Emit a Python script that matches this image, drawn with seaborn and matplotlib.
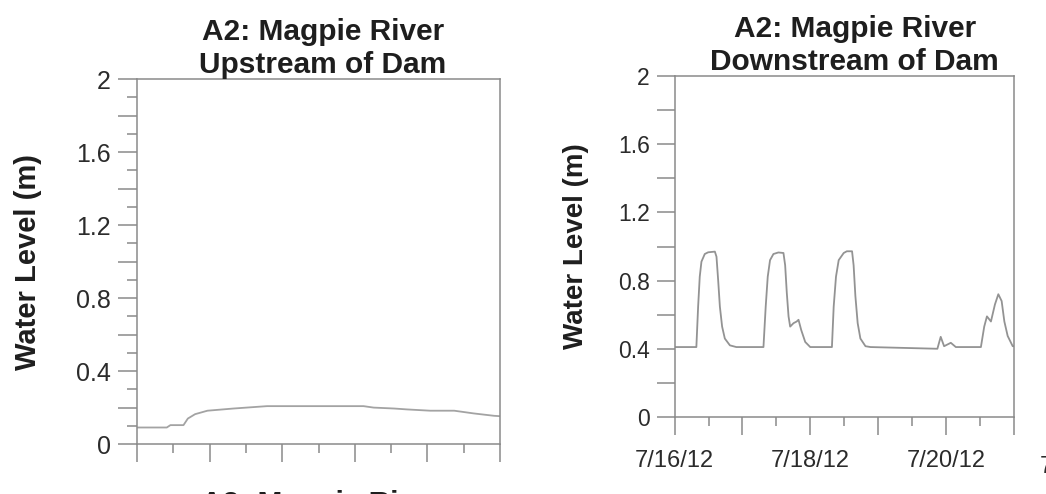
import pandas as pd
import matplotlib
matplotlib.use("Agg")
import matplotlib.pyplot as plt
import matplotlib.dates as mdates
from matplotlib.ticker import MultipleLocator, FuncFormatter, NullFormatter
import seaborn as sns

# water level records, time given as days after 7/16/12 00:00
start = pd.Timestamp("2012-07-16")
end = pd.Timestamp("2012-07-21")

up_days = [0, 0.41, 0.46, 0.64, 0.70, 0.80, 0.97, 1.33, 1.79, 3.12, 3.26, 3.54, 3.72,
           4.04, 4.37, 4.64, 4.92, 5.0]
up_level = [0.091, 0.091, 0.104, 0.104, 0.14, 0.164, 0.183, 0.195, 0.208, 0.208, 0.20,
            0.195, 0.19, 0.183, 0.183, 0.168, 0.155, 0.153]

down_days = [0, 0.32, 0.346, 0.37, 0.395, 0.444, 0.494, 0.593, 0.617, 0.642, 0.667, 0.70,
             0.74, 0.815, 0.91,
             1.31, 1.343, 1.373, 1.407, 1.457, 1.53, 1.605, 1.63, 1.654, 1.68, 1.704,
             1.753, 1.80, 1.827, 1.867, 1.926, 2.0,
             2.32, 2.346, 2.38, 2.42, 2.494, 2.54, 2.617, 2.64, 2.666, 2.70, 2.74,
             2.815, 2.89,
             3.876, 3.925, 3.975, 4.074, 4.148,
             4.518, 4.567, 4.607, 4.666, 4.725, 4.775, 4.824, 4.864, 4.913, 4.987, 5.0]
down_level = [0.41, 0.41, 0.647, 0.823, 0.911, 0.956, 0.966, 0.970, 0.94, 0.80, 0.647, 0.53,
              0.46, 0.42, 0.41,
              0.41, 0.647, 0.823, 0.92, 0.956, 0.965, 0.962, 0.89, 0.73, 0.59, 0.53,
              0.55, 0.56, 0.57, 0.51, 0.44, 0.41,
              0.41, 0.647, 0.823, 0.92, 0.962, 0.972, 0.972, 0.89, 0.71, 0.55, 0.46,
              0.415, 0.41,
              0.40, 0.47, 0.415, 0.435, 0.41,
              0.41, 0.53, 0.59, 0.56, 0.66, 0.72, 0.68, 0.56, 0.475, 0.415, 0.415]

titles = ["A2: Magpie River\nUpstream of Dam", "A2: Magpie River\nDownstream of Dam"]
ylabel = "Water Level (m)"
labelled_days = [16, 18, 20]

up = pd.DataFrame({"time": start + pd.to_timedelta(up_days, unit="D"), "level": up_level})
down = pd.DataFrame({"time": start + pd.to_timedelta(down_days, unit="D"), "level": down_level})

sns.set_style("ticks")
plt.rcParams["font.family"] = ["Liberation Sans", "DejaVu Sans"]

spine_col = "#8a8a8a"
text_col = "#2b2b2b"

fig = plt.figure(figsize=(10.46, 4.94), dpi=100)
ax1 = fig.add_axes([0.131, 0.101, 0.347, 0.739])
ax2 = fig.add_axes([0.645, 0.156, 0.324, 0.690])

sns.lineplot(data=up, x="time", y="level", ax=ax1, color="#a3a3a3", linewidth=1.3)
sns.lineplot(data=down, x="time", y="level", ax=ax2, color="#939393", linewidth=1.3)


def date_label(x, pos):
    d = mdates.num2date(x)
    if d.day in labelled_days and d.hour == 0:
        return f"{d.month}/{d.day}/{d:%y}"
    return ""


for ax in (ax1, ax2):
    ax.set_xlim(start, end)
    ax.set_ylim(0, 2)
    for sp in ax.spines.values():
        sp.set_visible(True)
        sp.set_color(spine_col)
        sp.set_linewidth(1.1)
    ax.xaxis.set_major_locator(mdates.DayLocator())
    ax.xaxis.set_minor_locator(mdates.HourLocator(byhour=[12]))
    ax.yaxis.set_major_locator(MultipleLocator(0.2))
    ax.yaxis.set_major_formatter(FuncFormatter(
        lambda v, p: ("%g" % round(v, 1)) if abs(v / 0.4 - round(v / 0.4)) < 1e-6 else ""))
    ax.tick_params(axis="x", which="major", length=13, width=1.1, color=spine_col,
                   pad=11, labelsize=17, labelcolor=text_col)
    ax.tick_params(axis="x", which="minor", length=6.5, width=1.1, color=spine_col)
    ax.set_xlabel("")

ax1.xaxis.set_major_formatter(NullFormatter())
ax2.xaxis.set_major_formatter(FuncFormatter(date_label))

ax1.yaxis.set_minor_locator(MultipleLocator(0.1))
ax1.tick_params(axis="y", which="major", length=14, width=1.1, color=spine_col,
                pad=5, labelsize=18, labelcolor=text_col)
ax1.tick_params(axis="y", which="minor", length=7, width=1.1, color=spine_col)
ax2.tick_params(axis="y", which="major", length=13, width=1.1, color=spine_col,
                pad=5, labelsize=16.5, labelcolor=text_col)

ax1.set_title(titles[0], fontsize=21.5, fontweight="bold", color="#1e1e1e",
              linespacing=1.25, pad=0.5, x=0.512)
ax2.set_title(titles[1], fontsize=21.5, fontweight="bold", color="#1e1e1e",
              linespacing=1.25, pad=0.5, x=0.531)

ax1.set_ylabel(ylabel, fontsize=21, fontweight="bold", color="#1e1e1e")
ax2.set_ylabel(ylabel, fontsize=20, fontweight="bold", color="#1e1e1e")
ax1.yaxis.set_label_coords(-0.262, 0.5)
ax2.yaxis.set_label_coords(-0.254, 0.5)

# pieces of the neighbouring panels, cut by the figure edge
fig.text(322 / 1046, -0.037, "A2: Magpie River", fontsize=21.5, fontweight="bold",
         color="#1e1e1e", ha="center", va="baseline")
fig.text(1040 / 1046, 0.0425, "7/16/12", fontsize=17, color=text_col,
         ha="left", va="baseline")

fig.savefig("out.png", dpi=100)
